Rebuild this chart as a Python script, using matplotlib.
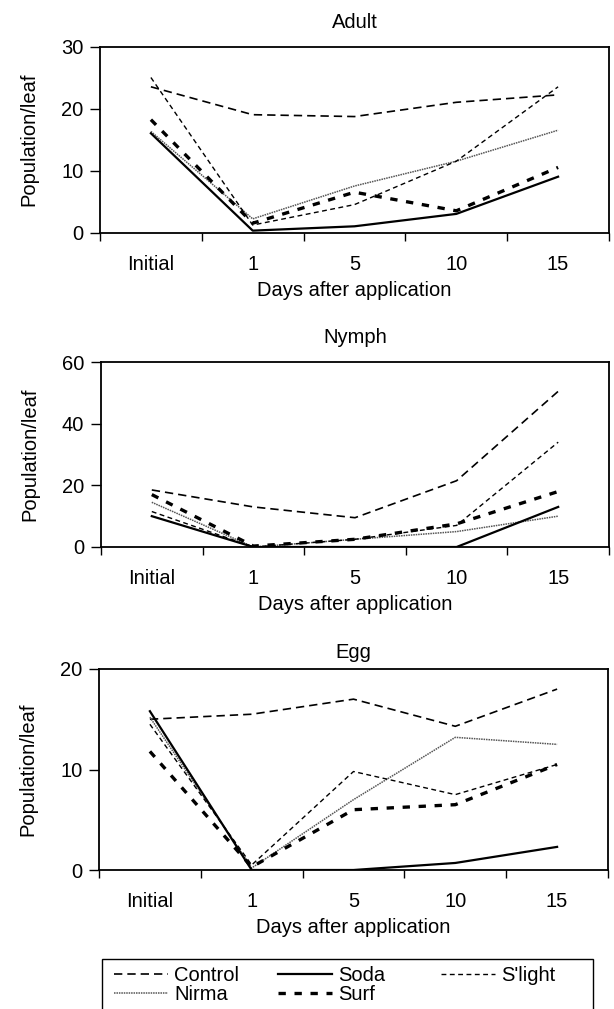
import matplotlib
matplotlib.use('Agg')
import matplotlib.pyplot as plt
from matplotlib.patches import Rectangle
import numpy as np

plt.rcParams['font.family'] = ['Liberation Sans', 'DejaVu Sans']

# categories on the x axis
days = ['Initial', '1', '5', '10', '15']

# Adult population/leaf
adult_control = [23.5, 19.0, 18.7, 21.0, 22.2]
adult_soda = [16.0, 0.3, 1.0, 3.0, 9.0]
adult_slight = [25.0, 1.2, 4.5, 11.5, 23.5]
adult_nirma = [16.3, 2.2, 7.5, 11.5, 16.5]
adult_surf = [18.2, 1.5, 6.5, 3.5, 10.5]

# Nymph population/leaf
nymph_control = [18.5, 13.0, 9.5, 21.5, 50.5]
nymph_soda = [10.0, 0.0, 0.0, 0.0, 13.0]
nymph_slight = [11.5, 0.0, 2.5, 7.0, 34.0]
nymph_nirma = [14.5, 0.0, 2.5, 5.0, 10.0]
nymph_surf = [17.0, 0.3, 2.5, 7.5, 18.0]

# Egg population/leaf
egg_control = [15.0, 15.5, 17.0, 14.3, 18.0]
egg_soda = [15.8, 0.0, 0.0, 0.7, 2.3]
egg_slight = [14.5, 0.5, 9.8, 7.5, 10.5]
egg_nirma = [15.2, 0.2, 7.0, 13.2, 12.5]
egg_surf = [11.8, 0.3, 6.0, 6.5, 10.5]

panels = [
    ('Adult', 30, [0, 10, 20, 30],
     [adult_control, adult_nirma, adult_soda, adult_surf, adult_slight]),
    ('Nymph', 60, [0, 20, 40, 60],
     [nymph_control, nymph_nirma, nymph_soda, nymph_surf, nymph_slight]),
    ('Egg', 20, [0, 10, 20],
     [egg_control, egg_nirma, egg_soda, egg_surf, egg_slight]),
]

names = ['Control', 'Nirma', 'Soda', 'Surf', "S'light"]
styles = [
    dict(color='black', lw=1.2, ls=(0, (5, 3))),
    dict(color='#555555', lw=1.1, ls=(0, (1, 0.6))),
    dict(color='black', lw=1.6, ls='-'),
    dict(color='black', lw=2.4, ls=(0, (2.2, 2.6))),
    dict(color='black', lw=1.0, ls=(0, (3.5, 2.5))),
]

# axes boxes in pixels: left, top, right, bottom
W, H = 614, 1009
boxes = [
    (100, 46.5, 609, 232.5),
    (101, 362, 609, 547),
    (99, 669, 608, 870),
]
title_pads = [13, 14, 8]

fig = plt.figure(figsize=(W / 100, H / 100), dpi=100)
fs = 14.5

x = np.arange(len(days)) + 0.5
handles = []
for (title, ymax, yticks, series), (l, t, r, b), tp in zip(panels, boxes, title_pads):
    ax = fig.add_axes([l / W, 1 - b / H, (r - l) / W, (b - t) / H])
    for vals, st in zip(series, styles):
        h, = ax.plot(x, vals, **st)
        if title == 'Adult':
            handles.append(h)
    ax.set_xlim(0, len(days))
    ax.set_ylim(0, ymax)
    ax.set_yticks(yticks)
    ax.set_xticks(x)
    ax.set_xticklabels(days, fontsize=fs)
    ax.set_xticks(np.arange(len(days) + 1), minor=True)
    ax.tick_params(axis='x', which='major', length=0, pad=16)
    ax.tick_params(axis='x', which='minor', length=6, width=1, direction='out')
    ax.tick_params(axis='y', length=7, width=1, direction='out', labelsize=fs, pad=5)
    for s in ax.spines.values():
        s.set_linewidth(1.3)
    ax.set_title(title, fontsize=fs, pad=tp)
    ax.set_xlabel('Days after application', fontsize=fs, labelpad=5)
    ax.set_ylabel('Population/leaf', fontsize=fs, labelpad=16)

# legend frame runs off the bottom of the figure, as in the scan
fig.patches.append(Rectangle((102 / W, -0.02), 491 / W, 0.02 + 1 - 959 / H,
                             transform=fig.transFigure, fill=False,
                             edgecolor='black', lw=1.0))
cols = [(handles[0:2], names[0:2], 114), (handles[2:4], names[2:4], 278),
        (handles[4:5], names[4:5], 441)]
for hs, ns, x0 in cols:
    lg = fig.legend(hs, ns, loc='upper left', bbox_to_anchor=(x0 / W, 1 - 966 / H),
                    borderaxespad=0, borderpad=0, fontsize=fs, frameon=False,
                    handlelength=2.7, handletextpad=0.3, labelspacing=0.0)

fig.savefig('out.png', dpi=100)
